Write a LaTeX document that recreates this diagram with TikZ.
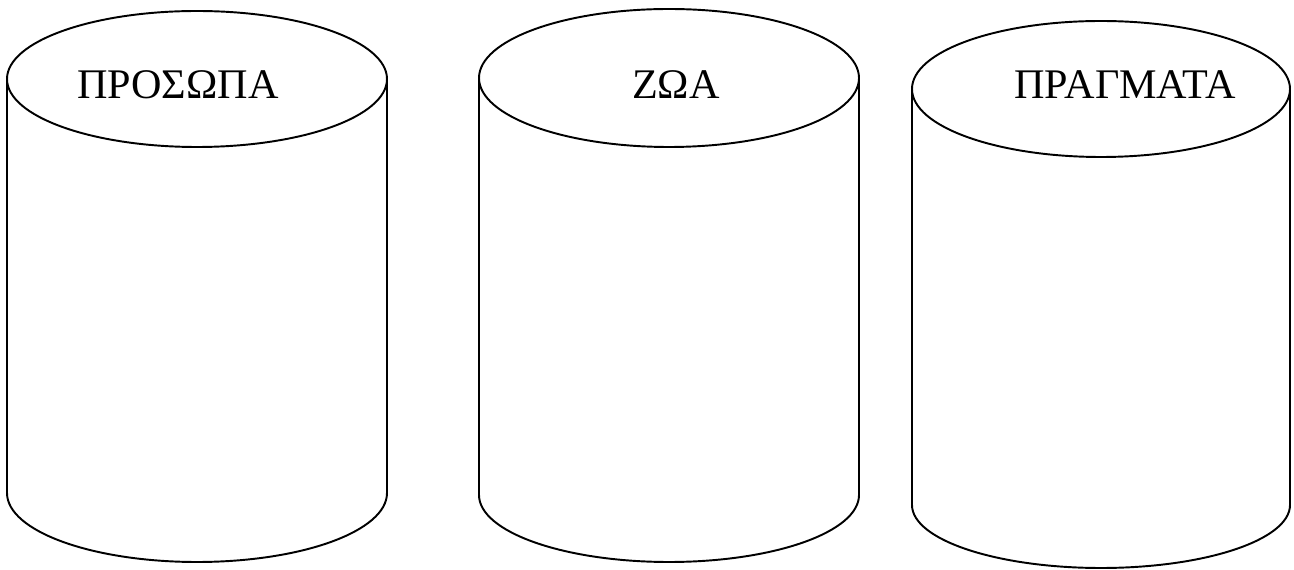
\documentclass[tikz,border=0pt]{standalone}
\usepackage{fontspec}
\setmainfont{Liberation Serif}
\begin{document}
\begin{tikzpicture}[can/.style={draw=black, line width=1.1pt}, cantext/.style={anchor=base, inner sep=0pt, font=\fontsize{24}{28}\selectfont}]
  \useasboundingbox (0,0) rectangle (25.88,11.4);

  % persons
  \draw[can] (0.14,9.82) -- (0.14,1.54) arc[start angle=180, end angle=360, x radius=3.8, y radius=1.38] -- (7.74,9.82);
  \filldraw[can, fill=white] (3.94,9.82) ellipse [x radius=3.8, y radius=1.36];
  \node[cantext] (prosopa) at (3.56,9.42) {ΠΡΟΣΩΠΑ};

  % animals
  \draw[can] (9.58,9.84) -- (9.58,1.5) arc[start angle=180, end angle=360, x radius=3.8, y radius=1.34] -- (17.18,9.84);
  \filldraw[can, fill=white] (13.38,9.84) ellipse [x radius=3.8, y radius=1.38];
  \node[cantext] (zoa) at (13.52,9.42) {ΖΩΑ};

  % things
  \draw[can] (18.24,9.62) -- (18.24,1.3) arc[start angle=180, end angle=360, x radius=3.78, y radius=1.26] -- (25.8,9.62);
  \filldraw[can, fill=white] (22.02,9.62) ellipse [x radius=3.78, y radius=1.36];
  \node[cantext] (pragmata) at (22.5,9.42) {ΠΡΑΓΜΑΤΑ};
\end{tikzpicture}
\end{document}
